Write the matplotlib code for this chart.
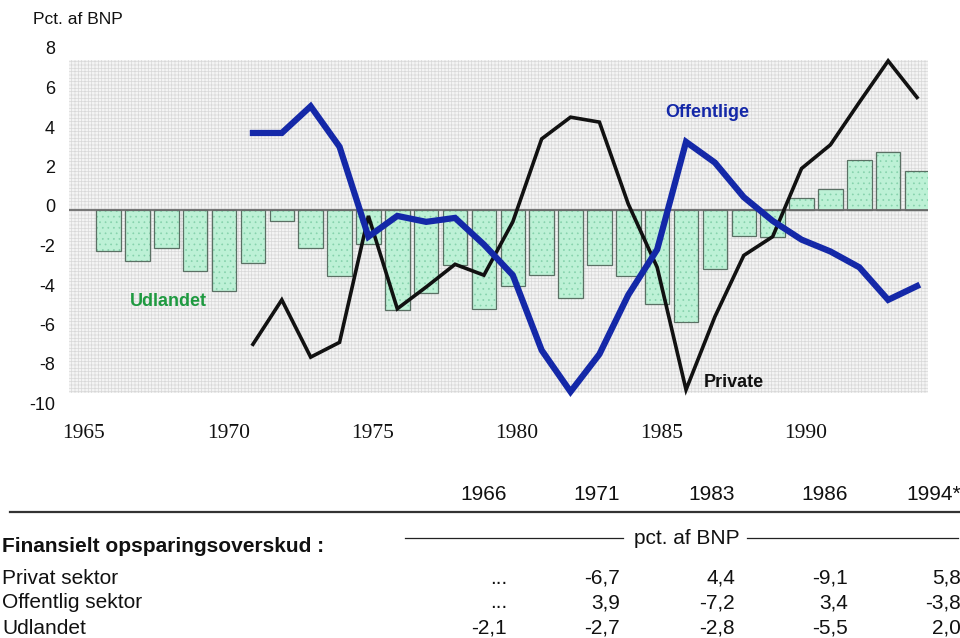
import matplotlib
matplotlib.use("Agg")
import matplotlib.pyplot as plt
import matplotlib.transforms as mtransforms
from matplotlib.patches import Rectangle
import numpy as np

# ---------------- data ----------------
line_years = list(range(1971, 1995))
private = [-6.8, -4.55, -7.45, -6.7, -0.3, -5.0, -3.9, -2.75, -3.3, -0.6, 3.6, 4.7,
           4.45, 0.3, -2.9, -9.1, -5.4, -2.3, -1.35, 2.1, 3.3, 5.45, 7.55, 5.7]
offentlige = [3.9, 3.9, 5.25, 3.2, -1.35, -0.3, -0.6, -0.4, -1.75, -3.3, -7.1, -9.2,
              -7.3, -4.3, -2.0, 3.45, 2.4, 0.65, -0.55, -1.5, -2.1, -2.9, -4.55, -3.85]
bar_years = list(range(1966, 1995))
udlandet = [-2.1, -2.6, -1.9, -3.1, -4.1, -2.7, -0.55, -1.9, -3.35, -1.7, -5.05, -4.2,
            -2.8, -5.0, -3.85, -3.3, -4.45, -2.8, -3.35, -4.75, -5.65, -3.0, -1.3, -1.35,
            0.6, 1.05, 2.55, 2.95, 1.95]
yticks = [8, 6, 4, 2, 0, -2, -4, -6, -8, -10]
xtick_years = [1965, 1970, 1975, 1980, 1985, 1990]

table_years = ["1966", "1971", "1983", "1986", "1994*"]
row_labels = ["Privat sektor", "Offentlig sektor", "Udlandet"]
row_values = [
    ["...", "-6,7", "4,4", "-9,1", "5,8"],
    ["...", "3,9", "-7,2", "3,4", "-3,8"],
    ["-2,1", "-2,7", "-2,8", "-5,5", "2,0"],
]
table_heading = "Finansielt opsparingsoverskud :"
unit_label = "pct. af BNP"

# ---------------- style ----------------
W, H = 960, 638
BLUE = "#1428a8"
GREEN = "#1e9a40"
SANS = ["Liberation Sans", "DejaVu Sans"]
SERIF = ["Liberation Serif", "DejaVu Serif"]
plt.rcParams["hatch.linewidth"] = 0.5

fig = plt.figure(figsize=(W / 100, H / 100), dpi=100)

def fx(px):
    return px / W

def fy(py):
    return 1 - py / H

ax_left, ax_right = 69, 928
ax_top, ax_bot = 52, 407.5
ax = fig.add_axes([fx(ax_left), fy(ax_bot), fx(ax_right - ax_left), (ax_bot - ax_top) / H])
ax.set_xlim(1964.63, 1994.38)
ax.set_ylim(-10, 8)
for s in ax.spines.values():
    s.set_visible(False)
ax.patch.set_alpha(0)

# background halftone
bg = Rectangle((1964.63, -9.27), 1994.38 - 1964.63, 7.59 + 9.27,
               facecolor="#f4f4f4", edgecolor="#d8d8d8", hatch="+++++",
               linewidth=0, zorder=0)
ax.add_patch(bg)

# bars
ax.bar(bar_years, udlandet, width=0.85, color="#bdf1d6", edgecolor="#86d2ac",
       hatch="...", linewidth=0, zorder=1)
ax.bar(bar_years, udlandet, width=0.85, fill=False, edgecolor="#5a7064",
       linewidth=0.9, zorder=2)

# zero line
ax.axhline(0, color="#6a6a6a", lw=1.3, zorder=2.5)

# lines
ax.plot(line_years, private, color="#111111", lw=2.6, zorder=3,
        solid_joinstyle="miter")
ax.plot(line_years, offentlige, color=BLUE, lw=4.5, zorder=4,
        solid_joinstyle="miter")

# series labels
ax.text(1985.27, 4.96, "Offentlige", color=BLUE, fontsize=13, fontweight="bold",
        family=SANS, ha="left", va="center", zorder=5)
ax.text(1966.73, -4.61, "Udlandet", color=GREEN, fontsize=13, fontweight="bold",
        family=SANS, ha="left", va="center", zorder=5)
ax.text(1986.6, -8.71, "Private", color="#111111", fontsize=13, fontweight="bold",
        family=SANS, ha="left", va="center", zorder=5)

# ticks
ax.set_yticks(yticks)
ax.set_yticklabels([str(v) for v in yticks], family=SANS, fontsize=13)
ax.set_xticks([y + 0.15 for y in xtick_years])
ax.set_xticklabels([str(y) for y in xtick_years], family=SERIF, fontsize=15.5)
ax.tick_params(axis="both", length=0, colors="#111111")
ax.tick_params(axis="y", pad=10)
ax.tick_params(axis="x", pad=12)
offset = mtransforms.ScaledTranslation(0, 4 / 100, fig.dpi_scale_trans)
for lab in ax.get_yticklabels():
    lab.set_transform(lab.get_transform() + offset)

fig.text(fx(33), fy(20), "Pct. af BNP", family=SANS, fontsize=12.5,
         ha="left", va="center", color="#111111")

# ---------------- table ----------------
col_right = [507, 620, 735, 848, 961]
for x, t in zip(col_right, table_years):
    fig.text(fx(x), fy(494), t, family=SANS, fontsize=15, ha="right",
             va="center", color="#111111")

fig.add_artist(plt.Line2D([fx(10), fx(960)], [fy(512), fy(512)], color="#333333",
                          lw=1.6))
fig.add_artist(plt.Line2D([fx(405), fx(623)], [fy(538), fy(538)], color="#222222",
                          lw=0.9))
fig.add_artist(plt.Line2D([fx(747), fx(958)], [fy(538), fy(538)], color="#222222",
                          lw=0.9))
fig.text(fx(687), fy(539), unit_label, family=SANS, fontsize=15, ha="center",
         va="center", color="#111111")

fig.text(fx(2), fy(547), table_heading, family=SANS, fontsize=15,
         fontweight="bold", ha="left", va="center", color="#111111")

row_y = [578, 603, 628]
for yy, lab, vals in zip(row_y, row_labels, row_values):
    fig.text(fx(2), fy(yy), lab, family=SANS, fontsize=15, ha="left",
             va="center", color="#111111")
    for x, v in zip(col_right, vals):
        fig.text(fx(x), fy(yy), v, family=SANS, fontsize=15, ha="right",
                 va="center", color="#111111")

fig.savefig("out.png", dpi=100)
